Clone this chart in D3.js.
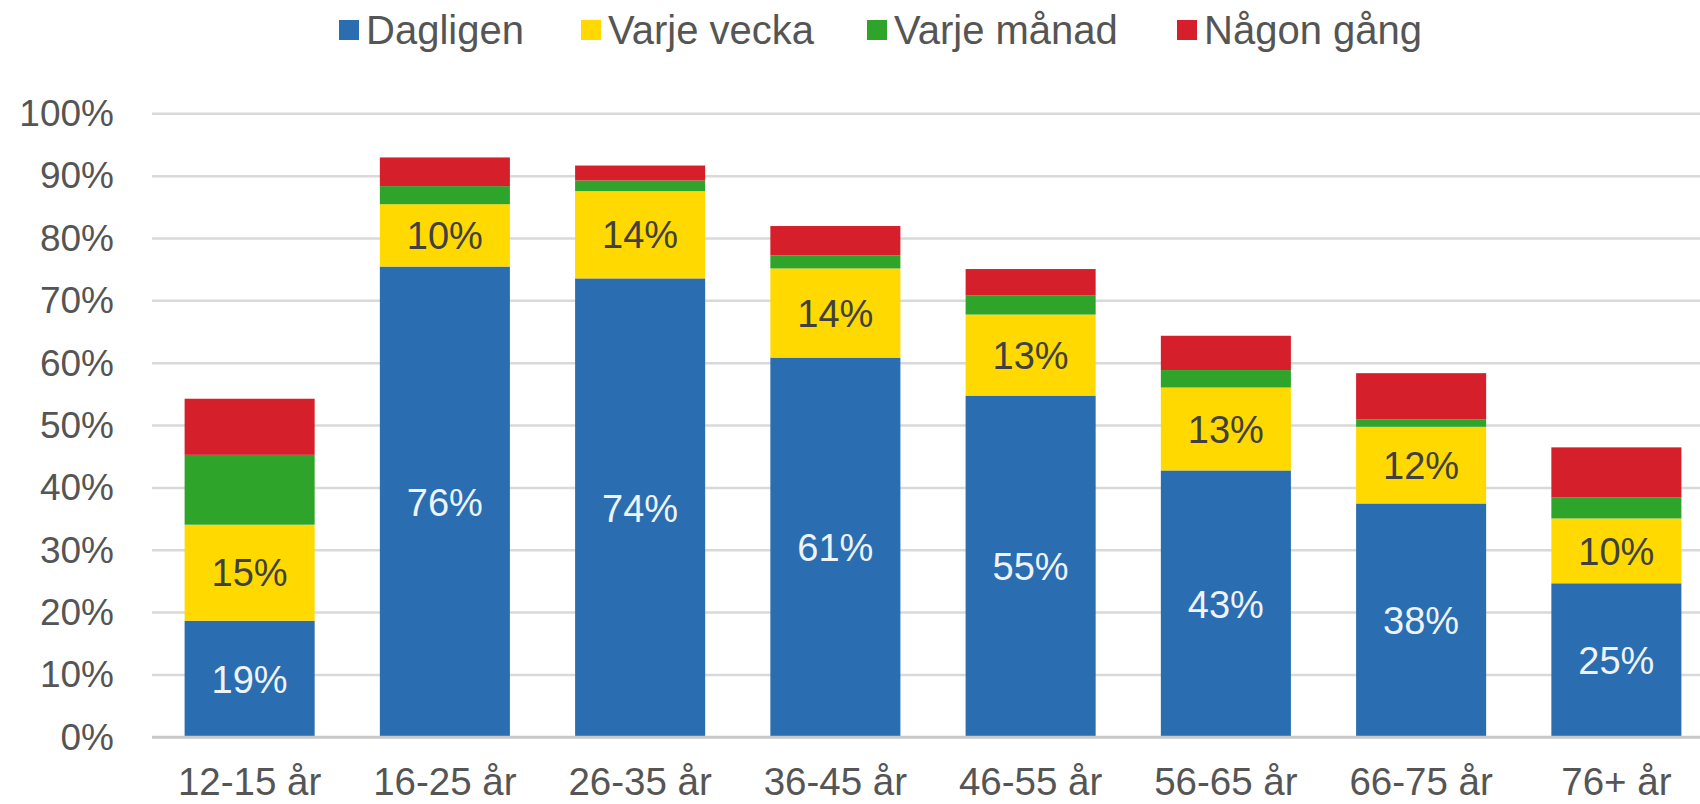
<!DOCTYPE html>
<html>
<head>
<meta charset="utf-8">
<script src="https://cdn.jsdelivr.net/npm/d3@7"></script>
<style>
  body { margin: 0; background: #ffffff; }
  text { font-family: "Liberation Sans", Arial, sans-serif; }
</style>
</head>
<body>
<div id="chart"></div>
<script>
// data (percent of each age group)
var ageGroups = ["12-15 år", "16-25 år", "26-35 år", "36-45 år", "46-55 år", "56-65 år", "66-75 år", "76+ år"];
var seriesNames = ["Dagligen", "Varje vecka", "Varje månad", "Någon gång"];
var dagligen = [18.7, 75.5, 73.6, 60.9, 54.8, 42.8, 37.5, 24.7];
var varjeVecka = [15.4, 10.0, 14.0, 14.3, 13.0, 13.3, 12.3, 10.4];
var varjeManad = [11.2, 2.9, 1.7, 2.1, 3.1, 2.8, 1.2, 3.4];
var nagonGang = [9.0, 4.6, 2.4, 4.7, 4.2, 5.5, 7.4, 8.0];
var yTicks = [0, 10, 20, 30, 40, 50, 60, 70, 80, 90, 100];

var colors = ["#2a6db0", "#ffd900", "#2ea42a", "#d51f2b"];

// set the dimensions of the graph
var width = 1700,
  height = 804,
  plotLeft = 152,
  plotRight = 1714,
  plotTop = 113.8,
  plotBottom = 737.3;

var svg = d3.select("#chart")
  .append("svg")
  .attr("width", width)
  .attr("height", height);

// build rows for the stack
var rows = ageGroups.map(function(g, i) {
  return {
    group: g,
    "Dagligen": dagligen[i],
    "Varje vecka": varjeVecka[i],
    "Varje månad": varjeManad[i],
    "Någon gång": nagonGang[i]
  };
});

var stackedData = d3.stack().keys(seriesNames)(rows);

// scales
var x = d3.scaleBand()
  .domain(ageGroups)
  .range([plotLeft, plotRight])
  .paddingInner(0.334)
  .paddingOuter(0.167);

var y = d3.scaleLinear()
  .domain([0, 100])
  .range([plotBottom, plotTop]);

var color = d3.scaleOrdinal()
  .domain(seriesNames)
  .range(colors);

// gridlines
svg.append("g")
  .selectAll("line")
  .data(yTicks.slice(1))
  .enter()
  .append("line")
  .attr("x1", plotLeft)
  .attr("x2", width)
  .attr("y1", function(d) { return y(d); })
  .attr("y2", function(d) { return y(d); })
  .attr("stroke", "#d9d9d9")
  .attr("stroke-width", 2.5);

// Y axis
var yAxis = svg.append("g")
  .attr("transform", "translate(" + plotLeft + ",0)")
  .call(d3.axisLeft(y).tickValues(yTicks).tickSize(0).tickPadding(38).tickFormat(function(d) { return d + "%"; }));
yAxis.select(".domain").remove();
yAxis.selectAll("text")
  .style("font-family", "'Liberation Sans', Arial, sans-serif")
  .style("font-size", "37px")
  .style("fill", "#555555");

// bars
var layers = svg.append("g")
  .selectAll("g")
  .data(stackedData)
  .enter()
  .append("g")
  .attr("fill", function(d) { return color(d.key); });

layers.selectAll("rect")
  .data(function(d) { return d; })
  .enter()
  .append("rect")
  .attr("x", function(d) { return x(d.data.group); })
  .attr("y", function(d) { return y(d[1]); })
  .attr("height", function(d) { return y(d[0]) - y(d[1]); })
  .attr("width", x.bandwidth());

// X axis line
svg.append("line")
  .attr("x1", plotLeft)
  .attr("x2", width)
  .attr("y1", plotBottom)
  .attr("y2", plotBottom)
  .attr("stroke", "#c8c8c8")
  .attr("stroke-width", 3);

// X axis labels
var xAxis = svg.append("g")
  .attr("transform", "translate(0," + plotBottom + ")")
  .call(d3.axisBottom(x).tickSize(0).tickPadding(30));
xAxis.select(".domain").remove();
xAxis.selectAll("text")
  .style("font-family", "'Liberation Sans', Arial, sans-serif")
  .style("font-size", "38.5px")
  .style("fill", "#555555");

// value labels on the two lower series
var labelled = stackedData.slice(0, 2);
svg.append("g")
  .selectAll("g")
  .data(labelled)
  .enter()
  .append("g")
  .each(function(layer, li) {
    d3.select(this)
      .selectAll("text")
      .data(layer)
      .enter()
      .append("text")
      .attr("x", function(d) { return x(d.data.group) + x.bandwidth() / 2; })
      .attr("y", function(d) { return (y(d[0]) + y(d[1])) / 2; })
      .attr("dy", "0.36em")
      .attr("text-anchor", "middle")
      .style("font-size", "38px")
      .style("fill", li === 0 ? "#eef3fa" : "#404040")
      .text(function(d) { return Math.round(d[1] - d[0]) + "%"; });
  });

// legend
var legendX = [339, 581, 867, 1177];
var legend = svg.append("g")
  .selectAll("g")
  .data(seriesNames)
  .enter()
  .append("g")
  .attr("transform", function(d, i) { return "translate(" + legendX[i] + ",30)"; });

legend.append("rect")
  .attr("x", 0)
  .attr("y", -10)
  .attr("width", 20)
  .attr("height", 20)
  .attr("fill", function(d) { return color(d); });

legend.append("text")
  .attr("x", 27)
  .attr("y", 0)
  .attr("dy", "0.36em")
  .style("font-size", "40px")
  .style("fill", "#555555")
  .text(function(d) { return d; });
</script>
</body>
</html>
